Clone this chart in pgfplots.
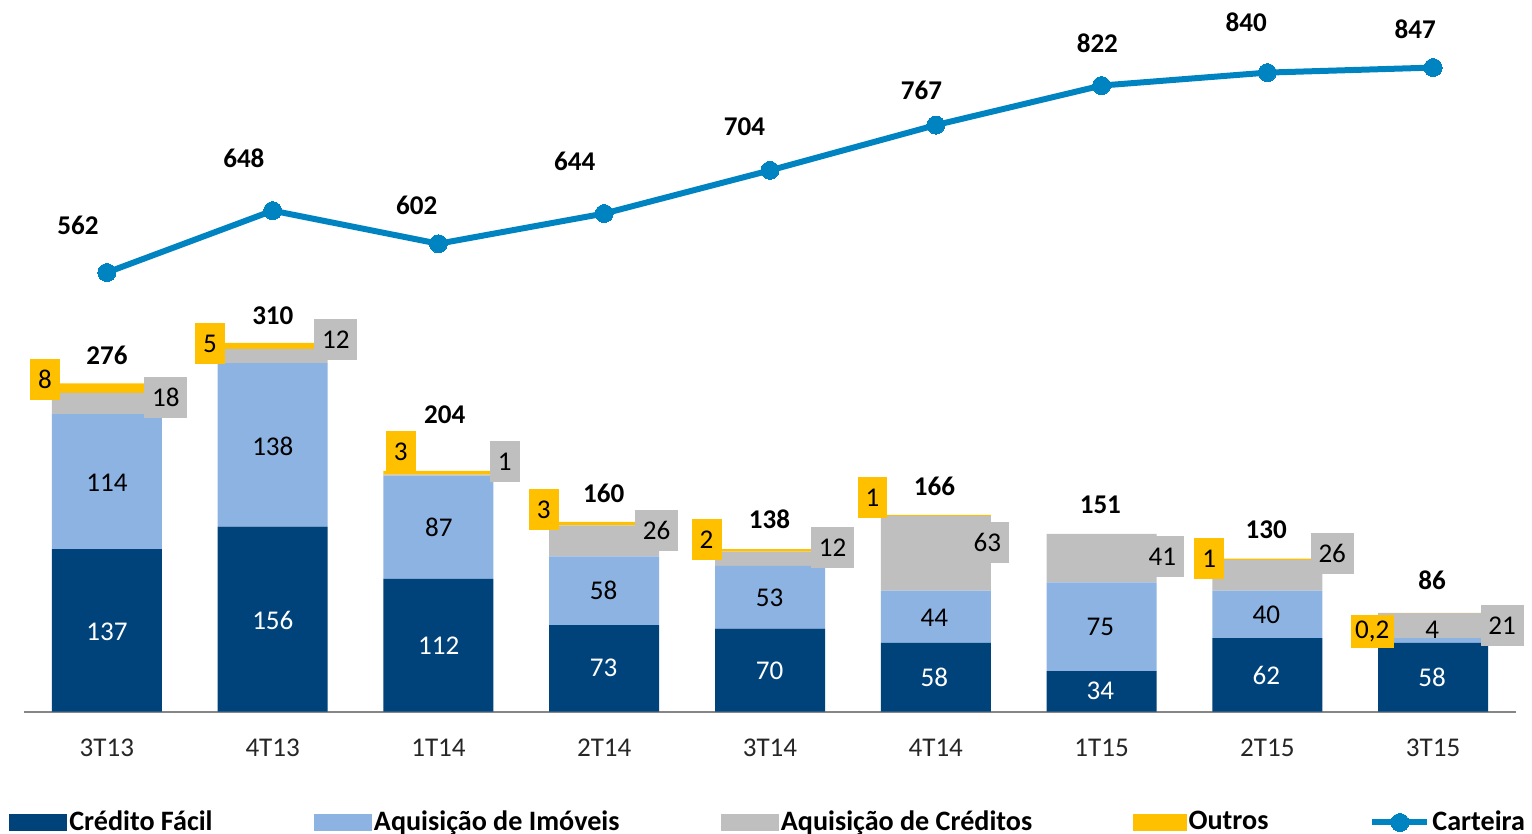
\documentclass[border=0pt]{standalone}
\usepackage{pgfplots}
\pgfplotsset{compat=1.18}
\usepackage{fontspec}
\setmainfont{Carlito}
\definecolor{cfc}{RGB}{0,66,122}
\definecolor{aic}{RGB}{141,179,226}
\definecolor{acc}{RGB}{191,191,191}
\definecolor{otc}{RGB}{255,192,0}
\definecolor{carc}{RGB}{0,132,193}
\definecolor{axc}{RGB}{134,134,134}
\pgfplotsset{linelegend/.style={legend image code/.code={\draw[mark repeat=2,mark phase=2,##1] plot coordinates {(0cm,0cm) (0.275cm,0cm) (0.55cm,0cm)};}}}
\begin{document}
\fontsize{7.7}{9}\selectfont
\begin{tikzpicture}
\useasboundingbox (0,0) rectangle (15.32cm,8.33cm);
\begin{axis}[at={(0.24cm,1.215cm)}, anchor=south west, scale only axis,
  width=14.92cm, height=7.01cm, xmin=-0.5, xmax=8.5, ymin=0, ymax=591.6,
  ybar stacked, bar width=1.1cm,
  axis x line=bottom, axis y line=none,
  x axis line style={-, draw=axc, line width=0.02cm},
  xtick={0,...,8},
  xticklabels={3T13,4T13,1T14,2T14,3T14,4T14,1T15,2T15,3T15},
  major tick length=0pt,
  xticklabel style={anchor=base, yshift=-0.445cm, text=black!85},
  clip=false]
\addplot[fill=cfc, draw=none] coordinates {(0,137) (1,156) (2,112) (3,73) (4,70) (5,58) (6,34) (7,62) (8,58)};
\addplot[fill=aic, draw=none] coordinates {(0,114) (1,138) (2,87) (3,58) (4,53) (5,44) (6,75) (7,40) (8,4)};
\addplot[fill=acc, draw=none] coordinates {(0,18) (1,12) (2,1) (3,26) (4,12) (5,63) (6,41) (7,26) (8,21)};
\addplot[fill=otc, draw=none] coordinates {(0,8) (1,5) (2,3) (3,3) (4,2) (5,1) (6,0) (7,1) (8,0.2)};
\end{axis}
\begin{axis}[at={(0.24cm,1.215cm)}, anchor=south west, scale only axis,
  width=14.92cm, height=7.01cm, xmin=-0.5, xmax=8.5, ymin=-48.6, ymax=926.4,
  hide axis, clip=false,
  legend columns=5,
  legend style={at={(-0.0101,-0.1583)}, anchor=west, draw=none, fill=none,
    inner sep=0pt, outer sep=0pt, font=\bfseries\fontsize{8}{9}\selectfont,
    nodes={inner sep=0.02cm},
    /tikz/every even column/.append style={column sep=0.99cm}},
  legend cell align=left]
\addlegendimage{legend image code/.code={\fill[cfc] (0cm,-0.08cm) rectangle (0.57cm,0.08cm);}}
\addlegendentry{Crédito Fácil}
\addlegendimage{legend image code/.code={\fill[aic] (0cm,-0.08cm) rectangle (0.57cm,0.08cm);}}
\addlegendentry{Aquisição de Imóveis}
\addlegendimage{legend image code/.code={\fill[acc] (0cm,-0.08cm) rectangle (0.57cm,0.08cm);}}
\addlegendentry{Aquisição de Créditos}
\addlegendimage{legend image code/.code={\fill[otc] (0cm,-0.08cm) rectangle (0.52cm,0.08cm);}}
\addlegendentry{Outros}
\addplot[carc, line width=0.06cm, mark=*, mark size=0.09cm,
  mark options={fill=carc, draw=carc, line width=0pt}, linelegend]
  coordinates {(0,562) (1,648) (2,602) (3,644) (4,704) (5,767) (6,822) (7,840) (8,847)};
\addlegendentry{Carteira}
\end{axis}
\begin{scope}[shift={(0,8.33cm)}, x=0.01cm, y=-0.01cm]
% line labels
\foreach \xx/\yy/\t in {78/225/562, 244/158/648, 417/205/602, 575/161/644, 745/127/704, 922/90/767, 1098/43/822, 1247/22/840, 1416/29/847}
  \node[font=\bfseries] at (\xx,\yy) {\t};
% totals
\foreach \xx/\yy/\t in {107/356/276, 273/316/310, 445/415/204, 604/494/160, 770/520/138, 935/487/166, 1101/505/151, 1267/530/130, 1433/581/86}
  \node[font=\bfseries] at (\xx,\yy) {\t};
% dark segment labels
\foreach \xx/\yy/\t in {107/632/137, 273/621/156, 439/646/112, 604/668/73, 770/671/70, 935/678/58, 1101/691/34, 1267/676/62, 1433/678/58}
  \node[text=white] at (\xx,\yy) {\t};
% light segment labels
\foreach \xx/\yy/\t in {107/483/114, 273/447/138, 439/528/87, 604/591/58, 770/598/53, 935/618/44, 1101/627/75, 1267/615/40, 1433/630/4}
  \node at (\xx,\yy) {\t};
% gray boxes
\foreach \xx/\yy/\w/\t in {166/398/43/18, 336/340/43/12, 505/462/30/1, 657/531/43/26, 833/548/43/12, 988/543/43/63, 1163/557/43/41, 1333/554/43/26, 1503/626/43/21}
  \node[fill=acc, minimum width=\w*0.01cm, minimum height=0.41cm, inner sep=0pt] at (\xx,\yy) {\t};
% orange boxes
\foreach \xx/\yy/\w/\h/\t in {45/380/30/41/8, 210/344/30/41/5, 401/452/30/41/3, 544/510/30/41/3, 707/540/30/41/2, 873/498/30/41/1, 1210/559/30/41/1, 1373/632/43/33/{0,2}}
  \node[fill=otc, minimum width=\w*0.01cm, minimum height=\h*0.01cm, inner sep=0pt] at (\xx,\yy) {\t};
\end{scope}
\end{tikzpicture}
\end{document}
